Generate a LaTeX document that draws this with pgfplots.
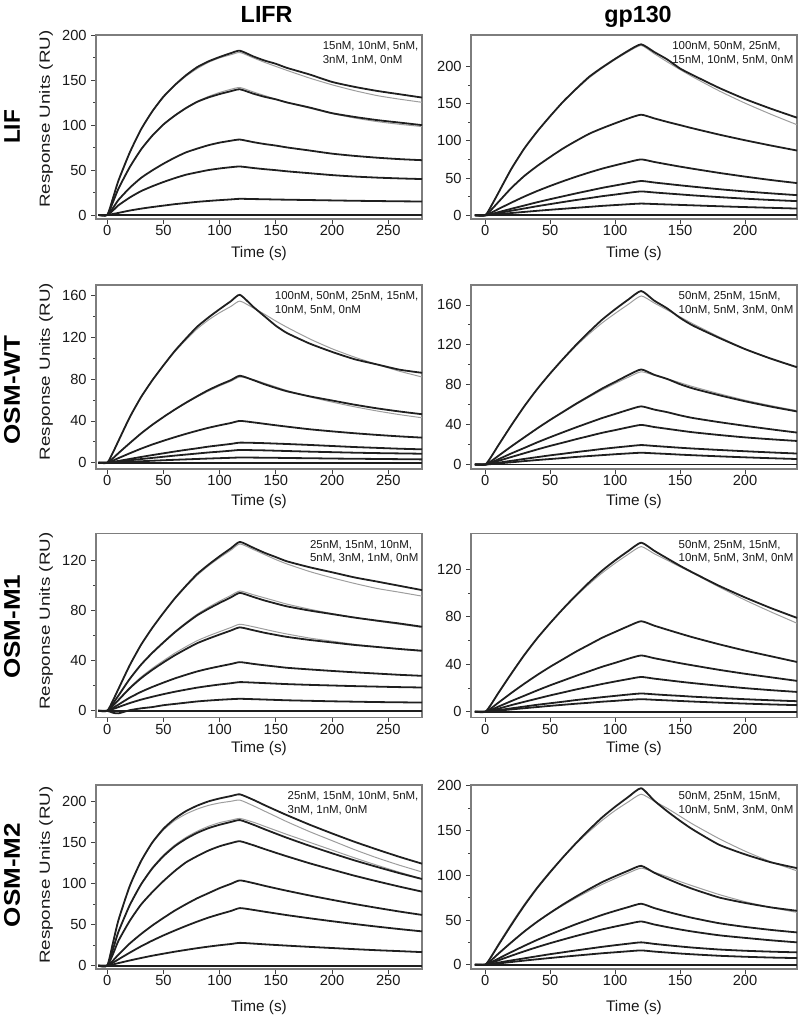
\documentclass[border=0pt]{standalone}
\usepackage{pgfplots}
\pgfplotsset{compat=1.18}
\usepackage{pgfplotstable}
\usepackage{graphicx}
\usepackage{fontspec}
\setmainfont{Liberation Sans}
\definecolor{framegray}{RGB}{125,125,125}
\newcommand{\tk}{\fontsize{11}{12}\selectfont}
\newcommand{\lab}{\fontsize{11.5}{12}\selectfont}
\newcommand{\cn}{\fontsize{8.6}{10}\selectfont}

% ---------------- data ----------------
\pgfplotstableread{
t c1 c2 c3 c4 c5 c6 f1 f2
-8 0 0 0 0 0 0 0 0
0 0 0 0 0 0 0 0 0
5 18.3 14 7.6 4.9 1.1 0 19 14
10 38.4 29.4 16.8 10.8 2.3 0 38 29
20 69.5 53.2 30.2 19.4 4.9 0 69 53
30 95.2 72.8 41.2 26.5 7 0 95 73
40 115.3 88.2 49.6 31.9 8.8 0 115 88.5
50 131.8 100.8 57.1 36.7 10.4 0 131 101
60 144.6 110.6 63.8 41 12 0 144 111
70 155.6 119 69.7 44.8 13.3 0 154.5 119.5
80 164.7 126 73.9 47.5 14.6 0 163 126.5
90 171.1 130.9 77.7 50 15.6 0 170 132
100 176 134.7 80.6 51.8 16.5 0 175 136.5
110 180.3 137.9 82.7 53.2 17.3 0 178.5 140
118 183 140 84 54 18 0 181 142
130 176.6 135.1 81.1 52.3 17.7 0 175 137
140 172 131.6 79 51 17.5 0 170 133
150 168.4 128.8 77.3 49.9 17.2 0 165.5 129
160 163.8 125.3 75.2 48.6 17 0 161 125.5
180 156.5 119.7 71.8 46.5 16.6 0 152.5 119
200 148.2 113.4 68.3 44.4 16.2 0 145 113
220 142.7 109.2 65.8 42.8 15.8 0 138.5 108
240 138.2 105.7 63.8 41.6 15.5 0 133 104
260 134.5 102.9 62.2 40.7 15.2 0 129 101
280 130.8 100.1 61 40 15 0 125.5 98.5
}\tA

\pgfplotstableread{
t c1 c2 c3 c4 c5 c6 c7 f1
-8 0 0 0 0 0 0 0 0
0 0 0 0 0 0 0 0 0
5 13.8 8.1 3.8 1.8 1.3 0.6 0 14.5
10 29.8 17.6 8.3 4.1 2.9 1.4 0 30.5
20 62 36.5 16.9 8.7 6.1 3 0 63
30 89.5 52.7 25.1 13.1 9.1 4.5 0 90
40 112.5 66.2 32.6 17.5 12.2 6 0 113
50 133.1 78.3 39.4 21.6 15 7.4 0 133.5
60 152.6 89.8 45.8 25.5 17.8 8.7 0 152.5
70 169.8 99.9 51.8 29.4 20.5 10 0 169
80 185.9 109.4 57.4 33.1 23 11.3 0 184.5
90 198.5 116.8 62.6 36.8 25.6 12.6 0 197.5
100 210 123.5 67.1 40 27.8 13.7 0 209
110 220.8 129.9 71.3 43.2 30.1 14.8 0 219.5
120 229.5 135 75 46 32 15.7 0 228
130 219.2 130.1 71.6 44 30.6 15.1 0 217
140 209.3 125.4 68.4 42.1 29.3 14.5 0 206
150 197 121 65.3 40.2 28 13.9 0 195.5
160 188 116.6 62.4 38.4 26.7 13.3 0 185.5
180 171 108.3 56.9 35 24.4 12.1 0 167
200 156 100.7 51.9 32 22.3 11 0 150.5
220 143 93.6 47.3 29.4 20.5 10 0 135.5
240 131 86.9 43.2 27 19 9 0 121.5
}\tB

\pgfplotstableread{
t c1 c2 c3 c4 c5 c6 c7 f1 f2
-8 0 0 0 0 0 0 0 0 0
0 0 0 0 0 0 0 0 0 0
5 9.6 4.2 2 0.8 0.5 0.2 0 10 4.2
10 20.9 9.2 4.4 1.7 1.1 0.45 0 21.5 9.2
20 43.4 18.7 9 3.6 2.3 0.95 0 44 18.8
30 62.6 27.9 13.4 5.5 3.5 1.4 0 63 28
40 78.7 36.2 17.4 7.3 4.6 1.9 0 79 36.2
50 93.1 43.7 21 9 5.7 2.35 0 93 43.6
60 106.8 50.8 24.4 10.7 6.8 2.8 0 106 50.6
70 118.8 57.4 27.6 12.3 7.8 3.2 0 117.5 57
80 130.1 63.6 30.6 13.8 8.8 3.6 0 128 63
90 138.9 69.5 33.4 15.4 9.8 4 0 136.5 68.5
100 146.9 74.5 35.8 16.7 10.6 4.35 0 143.5 73.5
110 154.5 79 38 18 11.5 4.7 0 149.5 78
118 160.6 83.2 40 19.2 12.2 5 0 154.6 82
130 149 79 38.6 19 12 4.9 0 148 79.5
140 140 75 37.2 18.7 11.8 4.8 0 142 76
150 131 71.5 35.8 18.3 11.5 4.7 0 135.5 72.5
160 124 68.3 34.5 17.9 11.2 4.5 0 129.5 69
180 114 63.5 32 17 10.6 4.3 0 118.5 63
200 106 59.5 30 16 10.1 4 0 109 58
220 99 55.5 28.2 15 9.6 3.8 0 101 53.5
240 94 52 26.6 14.2 9.2 3.6 0 94 49.5
260 89 49 25.2 13.4 8.9 3.4 0 87.5 46
280 86 46.4 24 12.8 8.6 3.2 0 82 43
}\tC

\pgfplotstableread{
t c1 c2 c3 c4 c5 c6 c7 f1 f2
-8 0 0 0 0 0 0 0 0 0
0 0 0 0 0 0 0 0 0 0
5 8.7 3.8 2.3 1.6 0.8 0.5 0 9 4
10 19.1 8.6 5.2 3.6 1.8 1.1 0 19.5 8.8
20 39.2 18.1 11.1 7.5 3.7 2.2 0 39.5 18.3
30 58.3 27.2 16.6 11.3 5.6 3.4 0 58.5 27.4
40 75.7 36.2 22.2 15.1 7.4 4.5 0 75.5 36.2
50 91.4 44.8 27.4 18.7 9.2 5.5 0 91 44.5
60 106.1 52.9 32.4 22 10.8 6.5 0 105.5 52.5
70 120.1 61 37.3 25.4 12.5 7.6 0 119 60.3
80 133.1 68.6 42 28.6 14 8.5 0 131 67.7
90 145.3 76.2 46.6 31.8 15.6 9.4 0 142 74.8
100 155.7 82.9 50.7 34.5 17 10.3 0 151.5 81.3
110 165.3 89.6 54.8 37.3 18.3 11.1 0 160.5 87.5
120 174 95.3 58.3 39.7 19.5 11.8 0 169 93
130 164.4 90 55.1 37.6 18.6 11.2 0 162 89.5
140 156.6 85.8 52.5 35.8 17.7 10.6 0 155 86
150 147 80.5 49.3 34 16.8 9.9 0 148 82
160 139.2 76.2 46.6 32.3 16 9.3 0 141 78
180 127 69.5 42.5 29.6 14.6 8.2 0 128 71
200 115.7 63.4 38.8 27.2 13.3 7.2 0 116 64.5
220 106.1 58 35.3 25.3 12.1 6.3 0 106 59
240 97.6 53.2 32 23.6 11 5.5 0 97 54
}\tD

\pgfplotstableread{
t c1 c2 c3 c4 c5 c6 c7 f1 f2 f3
-8 0 0 0 0 0 0 0 0 0 0
0 0 0 0 0 0 0 0 0 0 0
5 8.1 5.6 4 2.3 1.4 -1.5 0 8.5 5.8 4.2
10 17.5 12.2 8.6 5 3 -2 0 18 12.5 8.9
20 36.3 25.4 18 10.5 6.2 0.5 0 36.5 25.7 18.6
30 52.5 36.7 25.9 15.1 8.9 2 0 52.5 37 26.9
40 66 46.1 32.6 19 11.2 3 0 66 46.5 33.8
50 78.1 54.5 38.6 22.5 13.3 4.5 0 78 55 40
60 89.5 62.5 44.2 25.8 15.2 5.5 0 89 63 45.9
70 99.6 69.6 49.2 28.7 16.9 6.5 0 99 70.3 51.1
80 109 76.1 53.9 31.4 18.5 7.5 0 108 77 55.9
90 116.4 81.3 57.5 33.6 19.8 8.2 0 115.5 82.5 59.7
100 123.2 86 60.8 35.5 21 8.8 0 122 87.5 63.1
110 129.5 90.4 64 37.3 22 9.3 0 128 92 66.4
118 134.6 94 66.5 38.8 22.9 9.6 0 133 95.5 69
130 129.9 90.7 64.2 37.4 22.5 9.3 0 128.5 92.5 67
140 125.9 87.9 62.2 36.3 22.1 9 0 124.5 90 65
150 122.5 85.5 60.5 35.3 21.7 8.7 0 120.5 87.5 63
160 119.1 83.2 58.9 34.3 21.3 8.4 0 117 85 61.2
180 114.4 79.9 56.5 33 20.7 8 0 111 81 58
200 110.4 77.1 54.5 31.8 20.2 7.6 0 106 77.5 55.5
220 106.3 74.3 52.5 30.7 19.7 7.3 0 101.5 74.5 53
240 103 71.9 50.9 29.7 19.3 7 0 97.5 71.5 51
260 99.6 69.6 49.3 28.7 18.9 6.8 0 94.5 69 49
280 96.2 67 47.9 27.9 18.6 6.6 0 91.4 66.5 47.5
}\tE

\pgfplotstableread{
t c1 c2 c3 c4 c5 c6 c7 f1
-8 0 0 0 0 0 0 0 0
0 0 0 0 0 0 0 0 0
5 7.1 3.4 1.9 1.2 0.6 0.4 0 7.5
10 15.7 7.6 4.3 2.6 1.4 1 0 16.2
20 32 15.8 9 5.6 2.9 2 0 32.6
30 47.7 23.6 13.5 8.4 4.4 3 0 48.2
40 61.9 31 18 11.1 5.9 4 0 62.2
50 74.7 37.9 22.3 13.8 7.2 5 0 74.8
60 86.8 44.3 26.3 16.3 8.5 5.9 0 86.5
70 98.2 50.7 30.3 18.8 9.9 6.8 0 97.5
80 108.9 56.5 34.1 21.1 11.1 7.6 0 107.5
90 118.8 62.3 37.9 23.4 12.3 8.5 0 116.8
100 127.4 67.2 41.2 25.5 13.4 9.2 0 125
110 135.2 72 44.6 27.5 14.5 10 0 132.5
120 142.3 76.2 47.4 29.3 15.4 10.6 0 139
130 135.5 72.5 45.1 27.9 14.7 10.1 0 133
140 129.1 69.1 43 26.6 14 9.6 0 127.5
150 122.8 65.8 40.9 25.3 13.4 9.1 0 122
160 117 62.6 39 24.1 12.7 8.6 0 116.5
180 106 56.8 35.3 21.9 11.6 7.7 0 105
200 96.2 51.5 32 19.9 10.6 6.9 0 94
220 87.2 46.7 29 18.2 9.7 6.2 0 84
240 79 41.9 26 16.7 8.9 5.6 0 74.5
}\tF

\pgfplotstableread{
t c1 c2 c3 c4 c5 c6 c7 f1 f2
-8 0 0 0 0 0 0 0 0 0
0 0 0 0 0 0 0 0 0 0
5 27.2 19.5 13.7 6 3.5 1.4 0 28 19.5
10 55.6 41.4 30.4 13.5 7.7 3.1 0 56.5 41.5
20 97 73.7 54.6 27 15.8 6.3 0 97.5 74
30 127.3 98.9 74.4 38.5 23.5 9.3 0 127.5 99.5
40 150.1 118.5 89.6 48.9 30.5 12.1 0 149.5 119.5
50 167 133.6 103.2 58.2 36.9 14.6 0 165.5 135
60 179.3 145.6 115.4 67.1 42.8 17 0 177 147
70 188.5 154.7 126 74.9 48.4 19.2 0 185 156.5
80 195.2 162 133.6 82.2 53.7 21.3 0 191 164
90 200.4 167.7 140.4 88.4 58.6 23.2 0 195.5 170
100 204 171.9 145.7 94.6 62.8 24.9 0 198.5 174.5
110 206.9 175.3 149.5 99.8 66.7 26.4 0 200.5 177.5
118 209 177.6 151.8 104 70.2 27.8 0 202 179.6
130 202.3 171.9 146.9 100.7 68 26.9 0 195 175
140 195.8 166.4 142.2 97.4 65.8 26 0 188.5 170
150 189.6 161.1 137.7 94.3 63.7 25.2 0 182 165
160 183.5 155.9 133.3 91.3 61.6 24.4 0 175.5 160
180 172 146.2 124.9 85.6 57.8 22.9 0 163.5 150.5
200 161.3 137.1 117.2 80.3 54.2 21.5 0 152.5 141
220 151.1 128.4 109.7 75.2 50.8 20.1 0 141.5 131.5
240 141.7 120.4 102.9 70.5 47.6 18.8 0 131.5 122.5
260 132.7 112.8 96.4 66 44.6 17.7 0 122.5 114
280 124.4 105.7 90.3 61.9 41.8 16.5 0 114.3 106
}\tG

\pgfplotstableread{
t c1 c2 c3 c4 c5 c6 c7 f1 f2
-8 0 0 0 0 0 0 0 0 0
0 0 0 0 0 0 0 0 0 0
5 9.9 5.5 3.1 2.2 1 0.6 0 11 5.8
10 21.7 12.2 6.8 4.8 2.3 1.4 0 23 12.5
20 44.4 24.9 14.1 10 4.8 3 0 46 25.3
30 66.1 37.1 21.1 15 7.1 4.6 0 67.5 37.3
40 85.9 48.1 27.8 19.7 9.5 6.1 0 87 48
50 103.6 58.1 33.9 24.1 11.8 7.5 0 104.5 57.6
60 120.4 67.5 39.7 28.2 13.9 8.9 0 120.5 66.5
70 136.2 76.3 45.4 32.2 16 10.2 0 135.5 74.8
80 151 84.6 50.6 35.9 18 11.5 0 149 82.5
90 164.8 92.4 55.7 39.5 20 12.8 0 161.5 89.8
100 176.7 99 60.2 42.7 21.8 13.9 0 172.5 96.3
110 187.5 105.1 64.4 45.7 23.5 15 0 182 102.5
120 197.4 110.6 68.2 48.4 25 16 0 190.7 108
130 183.6 102.9 63.4 45 23.3 14.7 0 183 103.5
140 171.7 96.2 59.3 42.1 21.8 13.6 0 175 98.5
150 160.9 90.1 55.6 39.4 20.4 12.5 0 166 93
160 151 84.6 52.2 37 19.1 11.6 0 157 88
180 134.2 75.2 46.4 32.9 17 10 0 141 78.5
200 123.4 69.1 42.3 30 15.6 8.9 0 127 70.5
220 114.5 64.1 38.9 27.3 14.6 8 0 115 64
240 108 60.3 36.1 25 13.8 7.4 0 105 58.5
}\tH

\pgfplotsset{
  spr/.style={
    scale only axis, width=244.5pt, height=138pt,
    axis line style={draw=framegray, line width=1.1pt},
    tick align=outside, tick pos=left,
    major tick length=3.5pt, minor tick length=2pt,
    tick style={draw=black!75, line width=0.6pt},
    minor y tick num=1,
    ticklabel style={font=\tk, text=black!90},
    xticklabel style={inner sep=1pt},
    /pgf/number format/assume math mode=true,
    xtick={0,50,...,250},
    clip=false,
  },
  leftcol/.style={spr, xmin=-10, xmax=280},
  rightcol/.style={spr, xmin=-11, xmax=240},
  dat/.style={line width=1.35pt, color=black!88, line join=round, smooth, tension=0.35},
  fitl/.style={line width=0.75pt, color=black!38, line join=round, smooth, tension=0.35},
}
\newcommand{\xlab}[1]{\node[font=\lab, text=black!90, inner sep=0pt] at (rel axis cs:0.5,#1) {Time (s)};}
\newcommand{\ylab}[1]{\node[rotate=90, font=\fontsize{11}{12}\selectfont, text=black!90, inner sep=0pt] at (rel axis cs:-0.153,#1) {\scalebox{1.28}[1]{Response Units (RU)}};}
\newcommand{\conc}[1]{\node[anchor=north east, align=left, inner sep=0pt, font=\cn, text=black!90, xshift=-2.5pt, yshift=-5pt] at (rel axis cs:1,1) {#1};}

\begin{document}
\begin{tikzpicture}
\useasboundingbox (0,0) rectangle (600pt,763.5pt);
\node[font=\bfseries\fontsize{17.5}{18}\selectfont, anchor=base] at (200pt,746.5pt) {LIFR};
\node[font=\bfseries\fontsize{17.5}{18}\selectfont, anchor=base] at (478.5pt,746.5pt) {gp130};
\node[rotate=90, font=\bfseries\fontsize{17}{18}\selectfont] at (9pt,668.25pt) {LIF};
\node[rotate=90, font=\bfseries\fontsize{17}{18}\selectfont] at (9pt,471pt) {\scalebox{1.15}[1]{OSM-WT}};
\node[rotate=90, font=\bfseries\fontsize{17}{18}\selectfont] at (9pt,293.5pt) {\scalebox{1.15}[1]{OSM-M1}};
\node[rotate=90, font=\bfseries\fontsize{17}{18}\selectfont] at (9pt,107.25pt) {\scalebox{1.15}[1]{OSM-M2}};

% ---- Row 1 ----
\begin{axis}[leftcol, at={(72pt,599.25pt)}, anchor=south west,
  ymin=-4.5, ymax=200.5, ytick={0,50,...,200}]
  \addplot[fitl] table[x=t,y=f1]{\tA};
  \addplot[fitl] table[x=t,y=f2]{\tA};
  \addplot[dat] table[x=t,y=c1]{\tA};
  \addplot[dat] table[x=t,y=c2]{\tA};
  \addplot[dat] table[x=t,y=c3]{\tA};
  \addplot[dat] table[x=t,y=c4]{\tA};
  \addplot[dat] table[x=t,y=c5]{\tA};
  \addplot[dat] table[x=t,y=c6]{\tA};
  \xlab{-0.19}
  \ylab{0.543}
  \conc{15nM, 10nM, 5nM,\\3nM, 1nM, 0nM}
\end{axis}
\begin{axis}[rightcol, at={(353.25pt,599.25pt)}, anchor=south west,
  ymin=-5, ymax=242, ytick={0,50,...,200}]
  \addplot[fitl] table[x=t,y=f1]{\tB};
  \addplot[dat] table[x=t,y=c1]{\tB};
  \addplot[dat] table[x=t,y=c2]{\tB};
  \addplot[dat] table[x=t,y=c3]{\tB};
  \addplot[dat] table[x=t,y=c4]{\tB};
  \addplot[dat] table[x=t,y=c5]{\tB};
  \addplot[dat] table[x=t,y=c6]{\tB};
  \addplot[dat] table[x=t,y=c7]{\tB};
  \xlab{-0.19}
  \conc{100nM, 50nM, 25nM,\\15nM, 10nM, 5nM, 0nM}
\end{axis}

% ---- Row 2 ----
\begin{axis}[leftcol, at={(72pt,411.75pt)}, anchor=south west,
  ymin=-6, ymax=170, ytick={0,40,...,160}]
  \addplot[fitl] table[x=t,y=f1]{\tC};
  \addplot[fitl] table[x=t,y=f2]{\tC};
  \addplot[dat] table[x=t,y=c1]{\tC};
  \addplot[dat] table[x=t,y=c2]{\tC};
  \addplot[dat] table[x=t,y=c3]{\tC};
  \addplot[dat] table[x=t,y=c4]{\tC};
  \addplot[dat] table[x=t,y=c5]{\tC};
  \addplot[dat] table[x=t,y=c6]{\tC};
  \addplot[dat] table[x=t,y=c7]{\tC};
  \xlab{-0.178}
  \ylab{0.53}
  \conc{100nM, 50nM, 25nM, 15nM,\\10nM, 5nM, 0nM}
\end{axis}
\begin{axis}[rightcol, at={(353.25pt,411.75pt)}, anchor=south west,
  ymin=-4.5, ymax=180, ytick={0,40,...,160}]
  \addplot[fitl] table[x=t,y=f1]{\tD};
  \addplot[fitl] table[x=t,y=f2]{\tD};
  \addplot[dat] table[x=t,y=c1]{\tD};
  \addplot[dat] table[x=t,y=c2]{\tD};
  \addplot[dat] table[x=t,y=c3]{\tD};
  \addplot[dat] table[x=t,y=c4]{\tD};
  \addplot[dat] table[x=t,y=c5]{\tD};
  \addplot[dat] table[x=t,y=c6]{\tD};
  \addplot[dat] table[x=t,y=c7]{\tD};
  \xlab{-0.178}
  \conc{50nM, 25nM, 15nM,\\10nM, 5nM, 3nM, 0nM}
\end{axis}

% ---- Row 3 ----
\begin{axis}[leftcol, at={(72pt,225.375pt)}, anchor=south west,
  ymin=-5.3, ymax=141.3, ytick={0,40,...,120}]
  \addplot[fitl] table[x=t,y=f1]{\tE};
  \addplot[fitl] table[x=t,y=f2]{\tE};
  \addplot[fitl] table[x=t,y=f3]{\tE};
  \addplot[dat] table[x=t,y=c1]{\tE};
  \addplot[dat] table[x=t,y=c2]{\tE};
  \addplot[dat] table[x=t,y=c3]{\tE};
  \addplot[dat] table[x=t,y=c4]{\tE};
  \addplot[dat] table[x=t,y=c5]{\tE};
  \addplot[dat] table[x=t,y=c6]{\tE};
  \addplot[dat] table[x=t,y=c7]{\tE};
  \xlab{-0.17}
  \ylab{0.523}
  \conc{25nM, 15nM, 10nM,\\5nM, 3nM, 1nM, 0nM}
\end{axis}
\begin{axis}[rightcol, at={(353.25pt,225.375pt)}, anchor=south west,
  ymin=-4.8, ymax=150, ytick={0,40,...,120}]
  \addplot[fitl] table[x=t,y=f1]{\tF};
  \addplot[dat] table[x=t,y=c1]{\tF};
  \addplot[dat] table[x=t,y=c2]{\tF};
  \addplot[dat] table[x=t,y=c3]{\tF};
  \addplot[dat] table[x=t,y=c4]{\tF};
  \addplot[dat] table[x=t,y=c5]{\tF};
  \addplot[dat] table[x=t,y=c6]{\tF};
  \addplot[dat] table[x=t,y=c7]{\tF};
  \xlab{-0.17}
  \conc{50nM, 25nM, 15nM,\\10nM, 5nM, 3nM, 0nM}
\end{axis}

% ---- Row 4 ----
\begin{axis}[leftcol, at={(72pt,36.75pt)}, anchor=south west,
  ymin=-4.1, ymax=220.4, ytick={0,50,...,200}]
  \addplot[fitl] table[x=t,y=f1]{\tG};
  \addplot[fitl] table[x=t,y=f2]{\tG};
  \addplot[dat] table[x=t,y=c1]{\tG};
  \addplot[dat] table[x=t,y=c2]{\tG};
  \addplot[dat] table[x=t,y=c3]{\tG};
  \addplot[dat] table[x=t,y=c4]{\tG};
  \addplot[dat] table[x=t,y=c5]{\tG};
  \addplot[dat] table[x=t,y=c6]{\tG};
  \addplot[dat] table[x=t,y=c7]{\tG};
  \xlab{-0.212}
  \ylab{0.51}
  \conc{25nM, 15nM, 10nM, 5nM,\\3nM, 1nM, 0nM}
\end{axis}
\begin{axis}[rightcol, at={(353.25pt,36.75pt)}, anchor=south west,
  ymin=-4.8, ymax=201, ytick={0,50,...,200}]
  \addplot[fitl] table[x=t,y=f1]{\tH};
  \addplot[fitl] table[x=t,y=f2]{\tH};
  \addplot[dat] table[x=t,y=c1]{\tH};
  \addplot[dat] table[x=t,y=c2]{\tH};
  \addplot[dat] table[x=t,y=c3]{\tH};
  \addplot[dat] table[x=t,y=c4]{\tH};
  \addplot[dat] table[x=t,y=c5]{\tH};
  \addplot[dat] table[x=t,y=c6]{\tH};
  \addplot[dat] table[x=t,y=c7]{\tH};
  \xlab{-0.212}
  \conc{50nM, 25nM, 15nM,\\10nM, 5nM, 3nM, 0nM}
\end{axis}
\end{tikzpicture}
\end{document}
